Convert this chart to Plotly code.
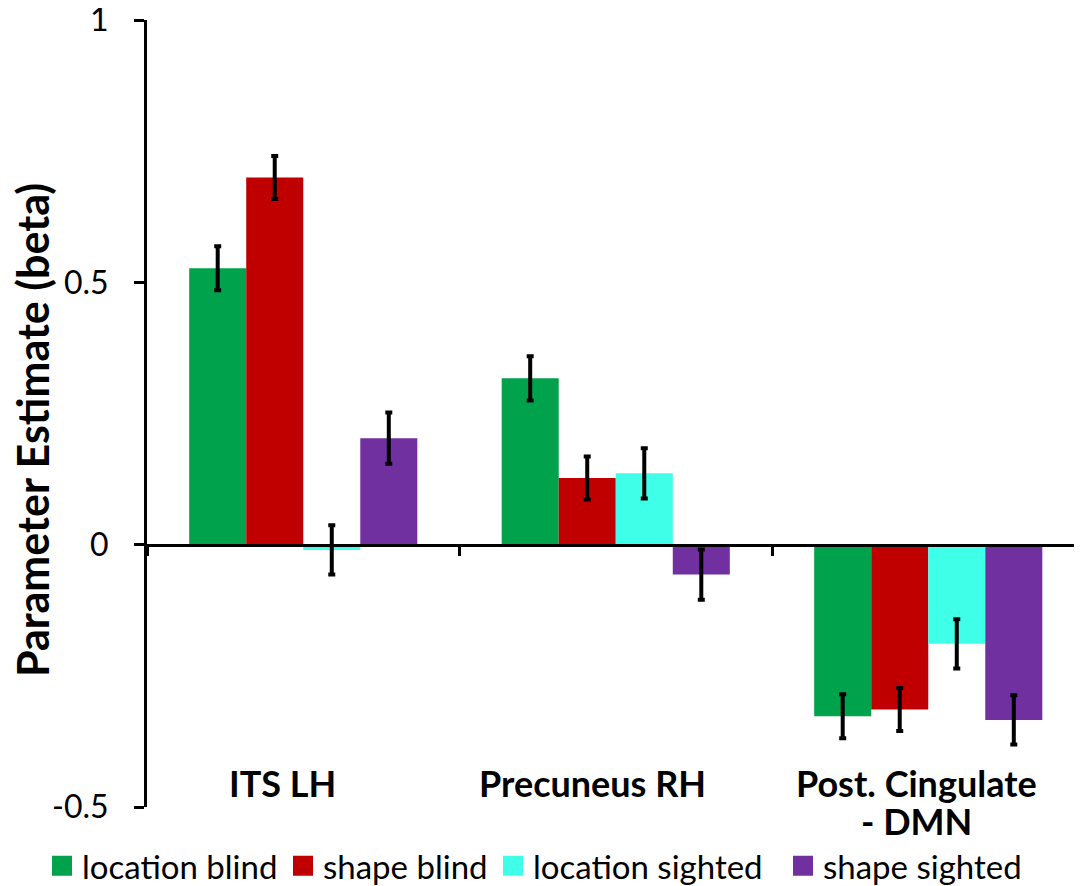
import plotly.graph_objects as go

categories = ["ITS LH", "Precuneus RH", "Post. Cingulate - DMN"]
category_labels = ["ITS LH", "Precuneus RH", "Post. Cingulate\n- DMN"]
label_shifts = [-21, -23, -12]

series_names = ["location blind", "shape blind", "location sighted", "shape sighted"]
series_colors = ["#00A24C", "#C00000", "#40FFE9", "#7030A0"]

location_blind = [0.527, 0.317, -0.327]
shape_blind = [0.700, 0.127, -0.314]
location_sighted = [-0.010, 0.136, -0.189]
shape_sighted = [0.203, -0.057, -0.334]

location_blind_err = [0.042, 0.042, 0.042]
shape_blind_err = [0.041, 0.041, 0.041]
location_sighted_err = [0.047, 0.048, 0.047]
shape_sighted_err = [0.049, 0.048, 0.047]

y_tick_vals = [-0.5, 0, 0.5, 1]
y_tick_text = ["-0.5", "0", "0.5", "1"]

values = [location_blind, shape_blind, location_sighted, shape_sighted]
errors = [location_blind_err, shape_blind_err, location_sighted_err, shape_sighted_err]

FONT = "Lato"
W, H = 1074, 878
ML, MT, MB = 139, 12, 79
plot_w = W - ML
plot_h = H - MT - MB

# left edge (px) of each legend entry
legend_left_px = [34, 275, 485, 775]
legend_ids = ["legend", "legend2", "legend3", "legend4"]

fig = go.Figure()
for name, color, vals, errs in zip(series_names, series_colors, values, errors):
    fig.add_trace(go.Bar(
        x=categories, y=vals, name=name, showlegend=False,
        marker=dict(color=color, line=dict(width=0)),
        error_y=dict(type="data", array=errs, visible=True,
                     color="black", thickness=4, width=3.5),
    ))

# legend entries (larger square swatches), one legend box per entry
for name, color, lid in zip(series_names, series_colors, legend_ids):
    fig.add_trace(go.Scatter(
        x=[None], y=[None], mode="markers", name=name, showlegend=True, legend=lid,
        marker=dict(symbol="square", size=16, color=color,
                    line=dict(width=4, color=color)),
    ))

for cat, lab, sh in zip(categories, category_labels, label_shifts):
    for i, line in enumerate(lab.split("\n")):
        fig.add_annotation(
            x=cat, y=0.061, xref="x", yref="paper", text="<b>" + line + "</b>",
            showarrow=False, xanchor="center", yanchor="top", xshift=sh, yshift=-38 * i,
            font=dict(family=FONT, size=36, color="black"), align="center",
        )

# y-axis title as rotated annotation
fig.add_annotation(
    x=(24 - ML) / plot_w, y=(MT + plot_h - 422) / plot_h, xref="paper", yref="paper",
    text="<b>Parameter Estimate (beta)</b>", textangle=-90, showarrow=False,
    xanchor="center", yanchor="middle",
    font=dict(family=FONT, size=43, color="black"),
)

legend_common = dict(
    orientation="h", xref="container", yref="container",
    xanchor="left", y=0.023, yanchor="middle",
    font=dict(family=FONT, size=33, color="black"),
    itemsizing="trace", bgcolor="rgba(0,0,0,0)",
)
legend_layout = {}
for lid, lx in zip(legend_ids, legend_left_px):
    legend_layout[lid] = dict(legend_common, x=lx / W)

fig.update_layout(
    width=W, height=H,
    margin=dict(l=ML, r=0, t=MT, b=MB),
    paper_bgcolor="white", plot_bgcolor="white",
    barmode="group", bargap=0.27, bargroupgap=0,
    font=dict(family=FONT, color="black"),
    xaxis=dict(
        type="category", range=[-0.5, -0.5 + plot_w / 312.5],
        anchor="free", position=1 / 3,
        showline=True, linewidth=3, linecolor="black",
        ticks="outside", tickson="boundaries", ticklen=9, tickwidth=3, tickcolor="black",
        showticklabels=False, showgrid=False, zeroline=False,
    ),
    yaxis=dict(
        range=[-0.5, 1], tickvals=y_tick_vals, ticktext=y_tick_text,
        showline=True, linewidth=3, linecolor="black",
        ticks="outside", ticklen=10, tickwidth=3, tickcolor="black",
        ticklabelstandoff=19, ticklabeloverflow="allow",
        tickfont=dict(family=FONT, size=32, color="black"),
        showgrid=False, zeroline=False, automargin=False,
    ),
    **legend_layout,
)

fig.write_html("out.html")
